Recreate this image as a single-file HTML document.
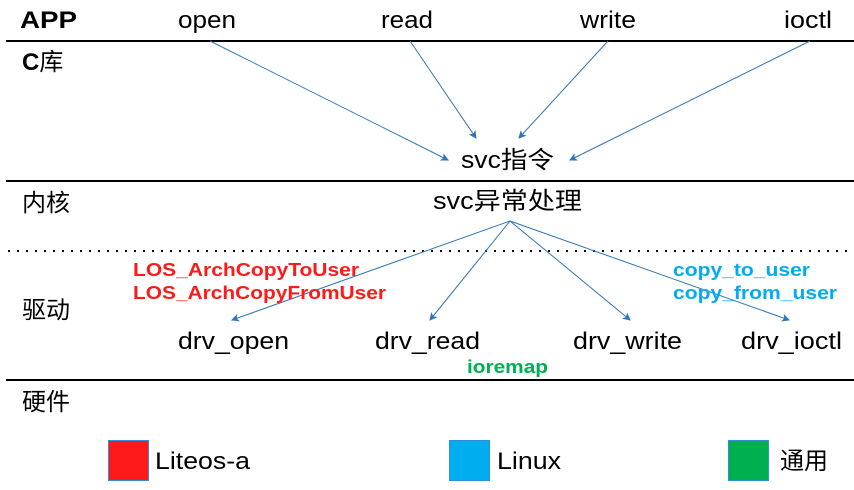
<!DOCTYPE html>
<html><head><meta charset="utf-8"><style>html,body{margin:0;padding:0;background:#fff}svg{display:block}text{font-family:"Liberation Sans","Noto Sans CJK SC",sans-serif}</style></head>
<body>
<svg width="854" height="490" viewBox="0 0 854 490" xmlns="http://www.w3.org/2000/svg">
<defs><marker id="a" markerWidth="8" markerHeight="8" refX="7" refY="4" orient="auto" markerUnits="userSpaceOnUse"><path d="M0,0 L8,4 L0,8 L2,4 z" fill="#2e75b6"/></marker></defs>
<g stroke="#000" stroke-width="2">
<line x1="6" y1="41" x2="854" y2="41"/>
<line x1="6" y1="181" x2="854" y2="181"/>
<line x1="6" y1="380" x2="854" y2="380"/>
</g>
<line x1="8" y1="251" x2="854" y2="251" stroke="#000" stroke-width="2" stroke-dasharray="2,7"/>
<g stroke="#2e75b6" stroke-width="1" marker-end="url(#a)">
<line x1="210" y1="41" x2="448" y2="160"/>
<line x1="410" y1="41" x2="476" y2="138"/>
<line x1="608" y1="41" x2="519" y2="138"/>
<line x1="810" y1="41" x2="570" y2="160"/>
<line x1="510" y1="221" x2="232" y2="320"/>
<line x1="510" y1="221" x2="430" y2="320"/>
<line x1="510" y1="221" x2="630" y2="320"/>
<line x1="510" y1="221" x2="789" y2="320"/>
</g>
<g font-size="24" fill="#000">
<text x="20" y="28" font-weight="bold" textLength="57" lengthAdjust="spacingAndGlyphs">APP</text>
<text x="178" y="28" textLength="58" lengthAdjust="spacingAndGlyphs">open</text>
<text x="381" y="28" textLength="52" lengthAdjust="spacingAndGlyphs">read</text>
<text x="580" y="28" textLength="56" lengthAdjust="spacingAndGlyphs">write</text>
<text x="784" y="28" textLength="48" lengthAdjust="spacingAndGlyphs">ioctl</text>
<text x="22" y="70"><tspan font-weight="bold">C</tspan>库</text>
<text x="461" y="168" textLength="93" lengthAdjust="spacingAndGlyphs">svc指令</text>
<text x="22" y="211">内核</text>
<text x="433" y="209" textLength="149" lengthAdjust="spacingAndGlyphs">svc异常处理</text>
<text x="22" y="318">驱动</text>
<text x="178" y="349" textLength="111" lengthAdjust="spacingAndGlyphs">drv_open</text>
<text x="375" y="349" textLength="105" lengthAdjust="spacingAndGlyphs">drv_read</text>
<text x="573" y="349" textLength="109" lengthAdjust="spacingAndGlyphs">drv_write</text>
<text x="741" y="349" textLength="101" lengthAdjust="spacingAndGlyphs">drv_ioctl</text>
<text x="22" y="410">硬件</text>
<text x="155" y="469" textLength="95" lengthAdjust="spacingAndGlyphs">Liteos-a</text>
<text x="497" y="469" textLength="64" lengthAdjust="spacingAndGlyphs">Linux</text>
<text x="780" y="469">通用</text>
</g>
<g font-size="18" font-weight="bold">
<text x="133" y="276" fill="#ff1a1a" textLength="226" lengthAdjust="spacingAndGlyphs">LOS_ArchCopyToUser</text>
<text x="133" y="299" fill="#ff1a1a" textLength="253" lengthAdjust="spacingAndGlyphs">LOS_ArchCopyFromUser</text>
<text x="673" y="276" fill="#00aeef" textLength="137" lengthAdjust="spacingAndGlyphs">copy_to_user</text>
<text x="673" y="299" fill="#00aeef" textLength="164" lengthAdjust="spacingAndGlyphs">copy_from_user</text>
<text x="467" y="373" fill="#00b050" textLength="81" lengthAdjust="spacingAndGlyphs">ioremap</text>
</g>
<rect x="108.5" y="440.5" width="40" height="40" fill="#ff1a1a" stroke="#2e8fd6" stroke-width="1"/>
<rect x="449.5" y="440.5" width="40" height="40" fill="#00aeef" stroke="#2e8fd6" stroke-width="1"/>
<rect x="728.5" y="440.5" width="40" height="40" fill="#00b050" stroke="#2e8fd6" stroke-width="1"/>
</svg>
</body></html>
